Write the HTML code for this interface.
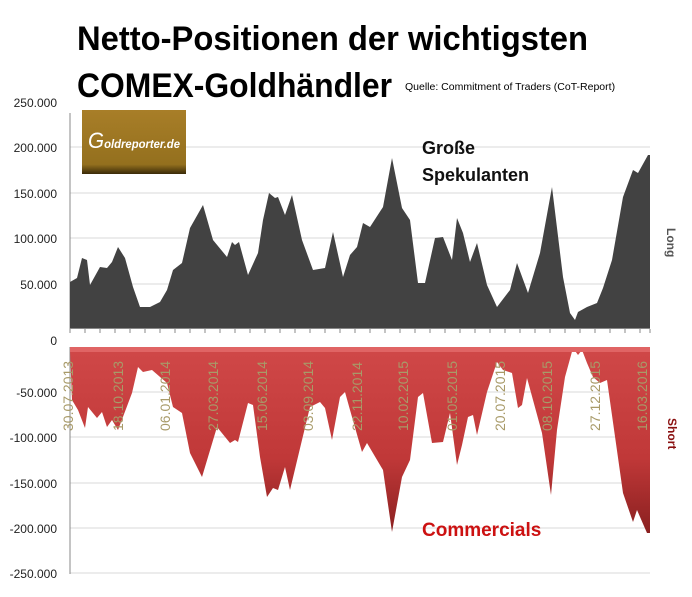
<!DOCTYPE html>
<html><head><meta charset="utf-8"><style>
body{margin:0;background:#fff;width:692px;height:592px;overflow:hidden;font-family:"Liberation Sans","DejaVu Sans",sans-serif}
</style></head><body>
<svg width="692" height="592" viewBox="0 0 692 592" xmlns="http://www.w3.org/2000/svg">
<defs>
<linearGradient id="rg" x1="0" y1="0" x2="0" y2="1">
<stop offset="0" stop-color="#d04848"/><stop offset="0.6" stop-color="#c03838"/><stop offset="1" stop-color="#8a2020"/>
</linearGradient>
<linearGradient id="gg" x1="0" y1="0" x2="0" y2="1">
<stop offset="0" stop-color="#a87e28"/><stop offset="0.85" stop-color="#94701e"/><stop offset="1" stop-color="#3a2a08"/>
</linearGradient>
</defs>
<text x="77" y="50" font-size="34" font-weight="bold" textLength="511" lengthAdjust="spacingAndGlyphs">Netto-Positionen der wichtigsten</text>
<text x="77" y="97" font-size="34" font-weight="bold" textLength="315" lengthAdjust="spacingAndGlyphs">COMEX-Goldhändler</text>
<text x="405" y="90" font-size="10.5" fill="#000">Quelle: Commitment of Traders (CoT-Report)</text>
<g stroke="#d8d8d8" stroke-width="1">
<line x1="70" y1="147" x2="650" y2="147"/><line x1="70" y1="193" x2="650" y2="193"/>
<line x1="70" y1="238" x2="650" y2="238"/><line x1="70" y1="284" x2="650" y2="284"/>
<line x1="70" y1="392" x2="650" y2="392"/><line x1="70" y1="437" x2="650" y2="437"/>
<line x1="70" y1="483" x2="650" y2="483"/><line x1="70" y1="528" x2="650" y2="528"/>
<line x1="70" y1="573" x2="650" y2="573"/>
</g>
<g font-size="12" fill="#222" text-anchor="end">
<text x="57" y="107">250.000</text><text x="57" y="152">200.000</text><text x="57" y="198">150.000</text>
<text x="57" y="243">100.000</text><text x="57" y="289">50.000</text><text x="57" y="345">0</text>
<text x="57" y="397">-50.000</text><text x="57" y="442">-100.000</text><text x="57" y="488">-150.000</text>
<text x="57" y="533">-200.000</text><text x="57" y="578">-250.000</text>
</g>
<line x1="70" y1="113" x2="70" y2="329" stroke="#888"/>
<line x1="70" y1="347" x2="70" y2="574" stroke="#888"/>
<path fill="#424242" d="M70,328 L70,282 L77,278 L82,258 L87,260 L90,285 L100,267 L107,268 L112,262 L118,247 L125,258 L133,287 L140,307 L150,307 L160,302 L167,290 L173,270 L182,263 L190,228 L203,205 L213,240 L227,257 L232,242 L235,245 L239,242 L248,275 L258,253 L263,220 L269,193 L275,198 L278,197 L285,215 L292,195 L302,240 L313,270 L325,268 L333,232 L343,277 L350,255 L357,247 L363,223 L370,227 L383,207 L392,158 L402,208 L410,220 L418,283 L425,283 L435,238 L443,237 L452,260 L457,218 L463,233 L470,262 L477,243 L487,285 L497,307 L510,290 L517,263 L528,293 L540,253 L552,187 L563,277 L570,313 L575,320 L578,312 L587,307 L597,303 L603,288 L612,260 L623,197 L633,170 L638,173 L648,155 L650,155 L650,328 Z"/>
<line x1="70" y1="328.5" x2="650" y2="328.5" stroke="#888"/>
<g stroke="#888">
<path d="M70,329v4M85,329v4M100,329v4M115,329v4M130,329v4M145,329v4M160,329v4M175,329v4M190,329v4M205,329v4M220,329v4M235,329v4M250,329v4M265,329v4M280,329v4M295,329v4M310,329v4M325,329v4M340,329v4M355,329v4M370,329v4M385,329v4M400,329v4M415,329v4M430,329v4M445,329v4M460,329v4M475,329v4M490,329v4M505,329v4M520,329v4M535,329v4M550,329v4M565,329v4M580,329v4M595,329v4M610,329v4M625,329v4M640,329v4M650,329v4"/>
</g>
<path fill="url(#rg)" d="M70,347 L650,347 L650,533 L647,533 L637,510 L633,522 L623,493 L607,380 L600,383 L593,377 L587,363 L582,350 L578,355 L573,348 L565,377 L557,430 L551,495 L542,433 L527,378 L522,405 L518,408 L512,373 L503,370 L497,362 L487,392 L477,435 L473,415 L468,417 L462,445 L457,465 L450,413 L443,442 L432,443 L423,393 L418,397 L410,460 L402,477 L392,532 L383,470 L367,443 L362,452 L350,410 L345,392 L340,397 L332,440 L325,408 L320,402 L310,407 L302,440 L290,490 L285,467 L278,490 L273,488 L267,497 L260,457 L253,405 L248,403 L238,442 L235,440 L230,443 L217,427 L202,477 L190,453 L182,413 L173,407 L167,383 L152,370 L143,372 L138,367 L132,393 L118,430 L112,420 L107,427 L102,412 L97,418 L88,407 L85,428 L78,410 L72,400 L70,350 Z"/>
<rect x="70" y="347" width="580" height="5" fill="#e06464"/>
<g font-size="14" fill="#a89a68">
<text transform="translate(73,431) rotate(-90)">30.07.2013</text>
<text transform="translate(123,431) rotate(-90)">18.10.2013</text>
<text transform="translate(170,431) rotate(-90)">06.01.2014</text>
<text transform="translate(218,431) rotate(-90)">27.03.2014</text>
<text transform="translate(267,431) rotate(-90)">15.06.2014</text>
<text transform="translate(313,431) rotate(-90)">03.09.2014</text>
<text transform="translate(362,431) rotate(-90)">22.11.2014</text>
<text transform="translate(408,431) rotate(-90)">10.02.2015</text>
<text transform="translate(457,431) rotate(-90)">01.05.2015</text>
<text transform="translate(505,431) rotate(-90)">20.07.2015</text>
<text transform="translate(552,431) rotate(-90)">08.10.2015</text>
<text transform="translate(600,431) rotate(-90)">27.12.2015</text>
<text transform="translate(647,431) rotate(-90)">16.03.2016</text>
</g>
<rect x="82" y="110" width="104" height="64" fill="url(#gg)"/>
<text x="88" y="148" font-size="12" font-style="italic" font-weight="bold" fill="#fff" textLength="92" lengthAdjust="spacingAndGlyphs"><tspan font-size="22" font-weight="normal">G</tspan>oldreporter.de</text>
<text x="422" y="154" font-size="18" font-weight="bold" fill="#111">Große</text>
<text x="422" y="181" font-size="18" font-weight="bold" fill="#111">Spekulanten</text>
<text x="422" y="536" font-size="19" font-weight="bold" fill="#cc1111">Commercials</text>
<text transform="translate(667,228) rotate(90)" font-size="12" font-weight="bold" fill="#555">Long</text>
<text transform="translate(668,418) rotate(90)" font-size="12" font-weight="bold" fill="#8a1010">Short</text>
</svg>
</body></html>
